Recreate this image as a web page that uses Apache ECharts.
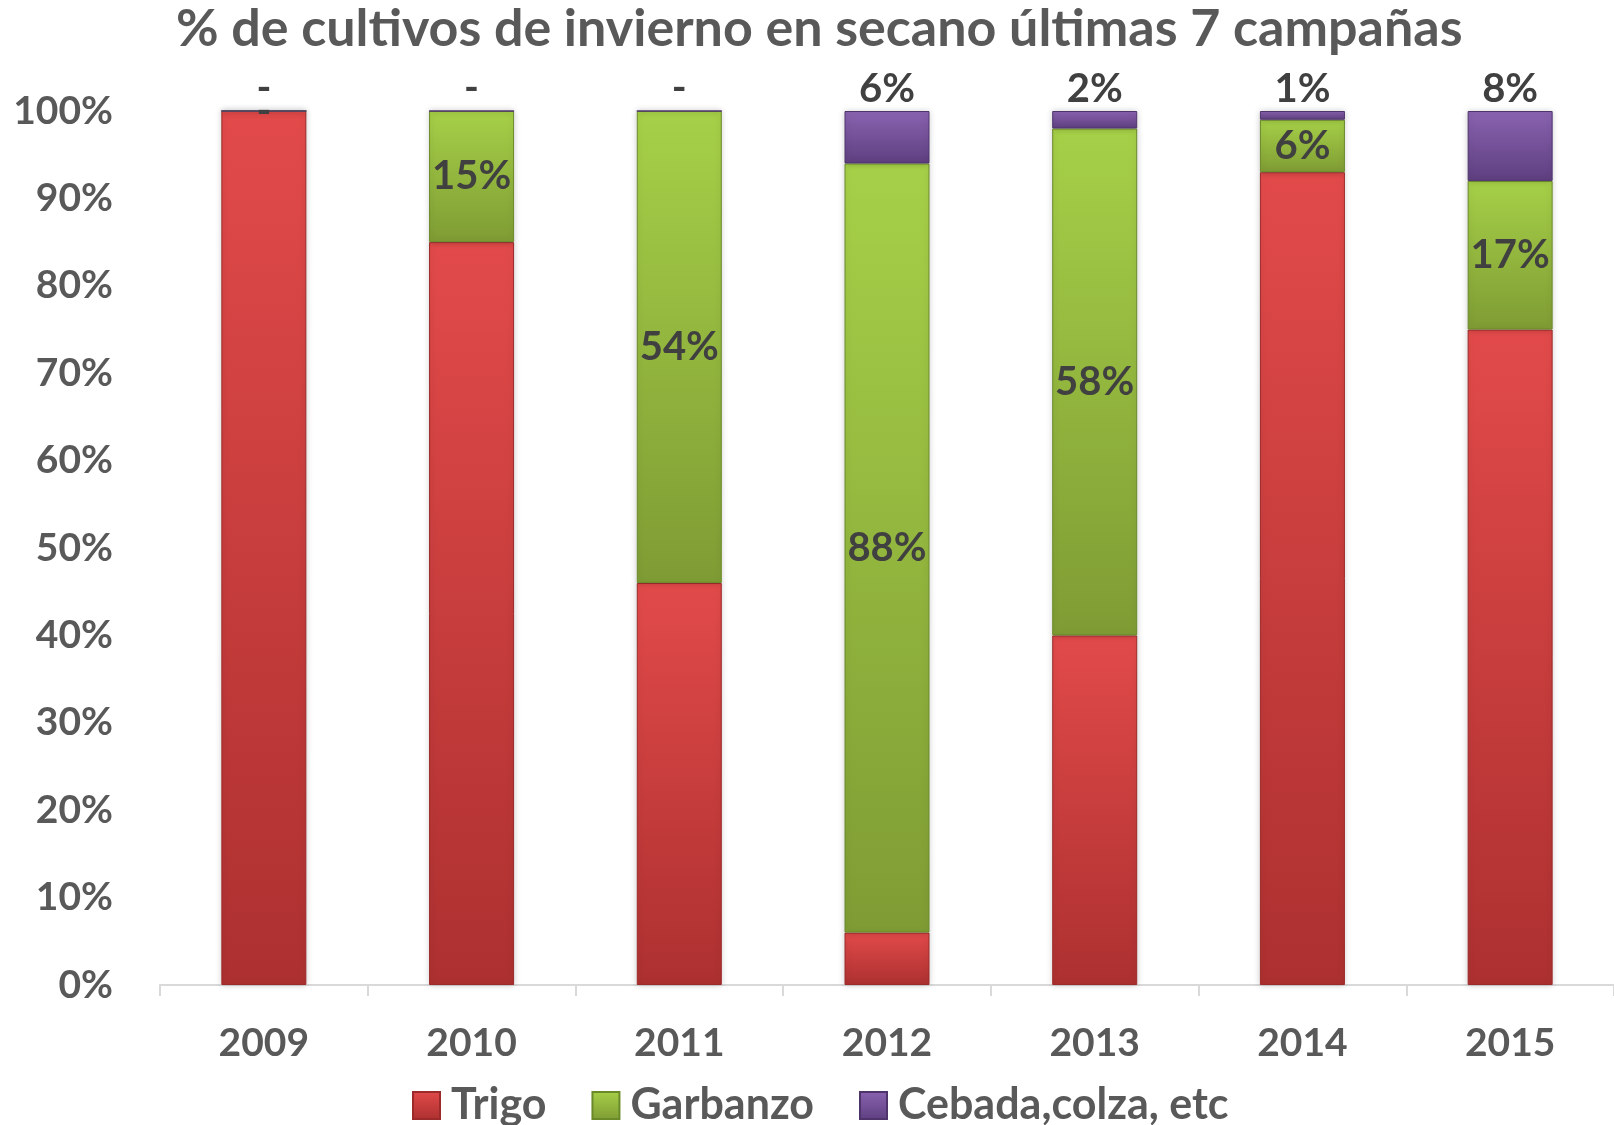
<!DOCTYPE html>
<html>
<head>
<meta charset="utf-8">
<script src="https://cdn.jsdelivr.net/npm/echarts@6/dist/echarts.min.js"></script>
<style>
html,body{margin:0;padding:0;background:#fff;}
#chart{width:1614px;height:1125px;}
</style>
</head>
<body>
<div id="chart"></div>
<script>
const titleText = '% de cultivos de invierno en secano últimas 7 campañas';
const categories = ['2009','2010','2011','2012','2013','2014','2015'];
const seriesNames = ['Trigo','Garbanzo','Cebada,colza, etc'];
const trigo = [100, 85, 46, 6, 40, 93, 75];
const garbanzo = [0, 15, 54, 88, 58, 6, 17];
const cebada = [0, 0, 0, 6, 2, 1, 8];
const yTicks = [0,10,20,30,40,50,60,70,80,90,100];

const FONT = 'Lato';
function grad(top, bottom){
  return {
    type:'linear', x:0, y:0, x2:0, y2:1,
    colorStops:[{offset:0,color:top},{offset:1,color:bottom}]
  };
}
const fmt = p => p.value === 0 ? '-' : p.value + '%';
const labelStyle = {fontFamily:FONT,fontWeight:'bold',fontSize:40,color:'#404040'};

const chart = echarts.init(document.getElementById('chart'), null, {renderer:'canvas'});
chart.setOption({
  animation:false,
  backgroundColor:'#ffffff',
  title:{
    text:titleText, left:176, top:3, padding:0,
    textStyle:{fontFamily:FONT,fontWeight:'bold',fontSize:52,color:'#595959'}
  },
  legend:{
    left:412, top:1084, padding:0, itemWidth:27, itemHeight:27, itemGap:45,
    icon:'rect',
    textStyle:{fontFamily:FONT,fontWeight:'bold',fontSize:43,color:'#595959',padding:[0,0,0,6]},
    data:seriesNames
  },
  grid:{left:160,right:0,top:111,bottom:140,containLabel:false},
  xAxis:{
    type:'category', data:categories,
    axisLine:{show:true,lineStyle:{color:'#d9d9d9',width:2}},
    axisTick:{show:true,length:11,lineStyle:{color:'#d9d9d9',width:2}},
    axisLabel:{margin:39,fontFamily:FONT,fontWeight:'bold',fontSize:39,color:'#595959'}
  },
  yAxis:{
    type:'value', min:0, max:100, interval:10,
    axisLine:{show:false}, axisTick:{show:false}, splitLine:{show:false},
    axisLabel:{margin:47,fontFamily:FONT,fontWeight:'bold',fontSize:39,color:'#595959',
      formatter: v => yTicks.includes(v) ? v + '%' : ''}
  },
  series:[
    {
      name:seriesNames[0], type:'bar', stack:'a', barWidth:85, data:trigo,
      itemStyle:{color:grad('#e24a4a','#ad3030'),borderColor:'#9c2a2a',borderWidth:1,
        shadowColor:'rgba(0,0,0,0.18)',shadowBlur:6},
      label:{show:false}
    },
    {
      name:seriesNames[1], type:'bar', stack:'a', barWidth:85, data:garbanzo,
      itemStyle:{color:grad('#a6d048','#7f9c34'),borderColor:'#6a8a2a',borderWidth:1,
        shadowColor:'rgba(0,0,0,0.18)',shadowBlur:6},
      label:Object.assign({show:true,position:'inside',formatter:fmt},labelStyle)
    },
    {
      name:seriesNames[2], type:'bar', stack:'a', barWidth:85, data:cebada,
      itemStyle:{color:grad('#8a63b0','#5e3f80'),borderColor:'#4f346c',borderWidth:1,
        shadowColor:'rgba(0,0,0,0.18)',shadowBlur:6},
      label:Object.assign({show:true,position:'top',distance:2,formatter:fmt},labelStyle)
    }
  ]
});
</script>
</body>
</html>
